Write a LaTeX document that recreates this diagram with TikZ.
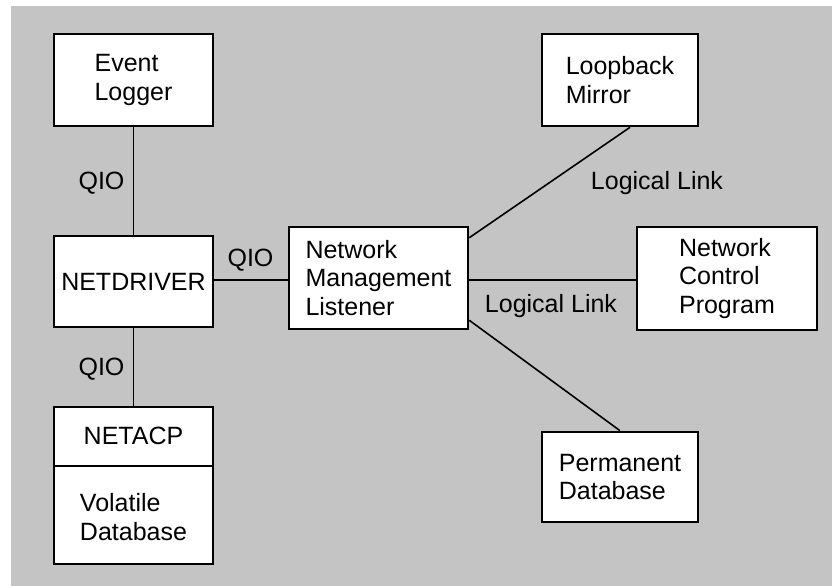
\documentclass[tikz,border=0pt]{standalone}
\usepackage{fontspec}
\setmainfont{Liberation Sans}
\usetikzlibrary{calc}
\definecolor{bggray}{RGB}{196,196,196}
\tikzset{
  box/.style={draw=black, line width=2.6pt, fill=white, inner sep=0pt, align=left,
    font=\fontsize{25}{28.5}\selectfont},
  link/.style={draw=black, line width=1.6pt},
  lbl/.style={anchor=base, inner sep=0pt, font=\fontsize{25}{28.5}\selectfont}
}
\begin{document}
\begin{tikzpicture}[x=1pt,y=-1pt]
\useasboundingbox (0,0) rectangle (832,586);
\fill[bggray] (11,6) rectangle (832,586);
% connectors first (under boxes)
\node[box, minimum width=159pt, minimum height=92pt] (ev) at (133.5,80) {Event\\Logger};
\node[box, minimum width=159pt, minimum height=91pt] (nd) at (133.5,281.5) {NETDRIVER};
\node[box, minimum width=159pt, minimum height=157pt] (acp) at (133.5,485.5) {};
\node[box, minimum width=179pt, minimum height=102pt] (nml) at (378.5,278) {Network\\Management\\Listener};
\node[box, minimum width=156pt, minimum height=92pt] (lb) at (620,80) {Loopback\\Mirror};
\node[box, minimum width=180pt, minimum height=103pt] (ncp) at (727,278.5) {Network\\Control\\Program};
\node[box, minimum width=156pt, minimum height=90pt] (pdb) at (620,477) {Permanent\\Database};
% NETACP inner content
\coordinate (div) at ($(acp.north west)+(0,-60pt)$);
\draw[line width=2pt] (div) -- (div -| acp.east);
\node[lbl, anchor=center] (acpt) at ($(acp.north)+(0,-30pt)$) {NETACP};
\node[lbl, anchor=center, align=left] (vdb) at ($(acp.south)+(0,48pt)$) {Volatile\\Database};
% connectors
\draw[link] (ev.south) -- (nd.north);
\draw[link] (nd.south) -- (acp.north);
\draw[link] (nd.east |- 0,280) -- (nml.west |- 0,280);
\draw[link] (nml.east |- 0,280) -- (ncp.west |- 0,280);
\draw[link] ([yshift=-12pt]nml.north east) -- ([xshift=10pt]lb.south);
\draw[link] ([yshift=10pt]nml.south east) -- (pdb.north);
% labels
\node[lbl] (q1) at (101.5,189) {QIO};
\node[lbl] (q2) at (101.5,375) {QIO};
\node[lbl] (q3) at (250.5,266) {QIO};
\node[lbl] (l1) at (657,189) {Logical Link};
\node[lbl] (l2) at (551,312) {Logical Link};
\end{tikzpicture}
\end{document}
